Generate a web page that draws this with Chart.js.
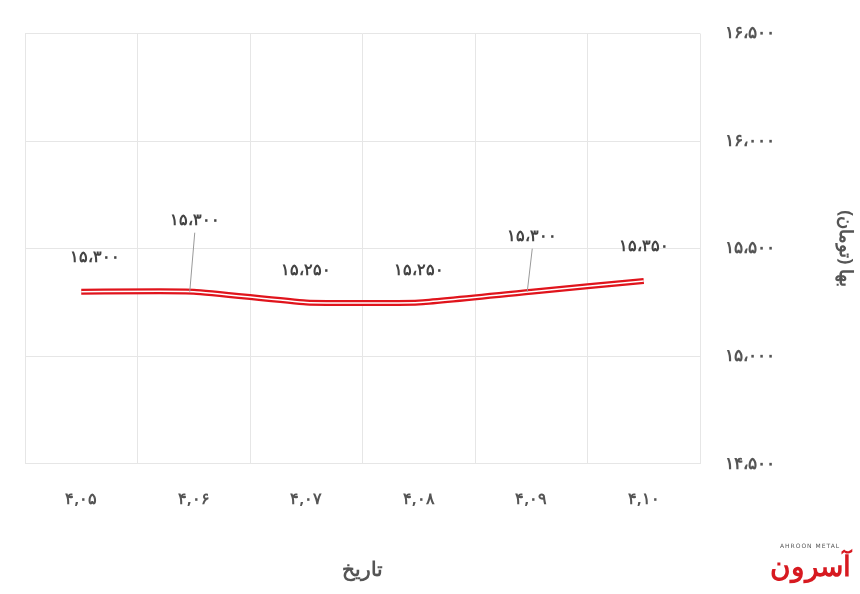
<!DOCTYPE html>
<html><head><meta charset="utf-8">
<script src="https://cdn.jsdelivr.net/npm/chart.js@4"></script>
<style>body{margin:0;background:#fff}#w{width:860px;height:594px;position:relative}
#logo{position:absolute;left:770px;top:542px;width:80px;text-align:center;color:#d71920;font:900 28px "Noto Sans";line-height:30px}
#logo small{display:block;color:#555;font:6px "DejaVu Sans";letter-spacing:1px;line-height:8px}
</style></head><body><div id="w"><canvas id="c" width="860" height="594"></canvas>
<div id="logo"><small>AHROON METAL</small>آسرون</div></div>
<script>
const categories=['۴,۰۵','۴,۰۶','۴,۰۷','۴,۰۸','۴,۰۹','۴,۱۰'];
const prices=[15300,15300,15250,15250,15300,15350];
const yTicks=[14500,15000,15500,16000,16500];
const fa=n=>{const s=String(n).replace(/\B(?=(\d{3})+(?!\d))/g,'،');return s.replace(/\d/g,d=>'۰۱۲۳۴۵۶۷۸۹'[d]);};
const lab={id:'lab',afterDatasetsDraw(ch){const c=ch.ctx,m=ch.getDatasetMeta(0);
 const off=[[14,-34,0],[1,-71,1],[0,-32,0],[0,-32,0],[1,-55,1],[0,-34,0]];
 c.save();c.font='bold 16px "Noto Sans"';c.fillStyle='#444';c.textAlign='center';c.textBaseline='middle';
 m.data.forEach((p,i)=>{const [dx,dy,l]=off[i];
  if(l){c.strokeStyle='#999';c.lineWidth=1;c.beginPath();c.moveTo(p.x-4,p.y);c.lineTo(p.x+dx,p.y+dy+12);c.stroke();}
  c.fillText(fa(prices[i]),p.x+dx,p.y+dy);});c.restore();}};
new Chart(document.getElementById('c'),{type:'line',
data:{labels:categories,datasets:[
 {data:prices,borderColor:'#e0141c',borderWidth:6,pointRadius:0,tension:0.15,order:2},
 {data:prices,borderColor:'#fff',borderWidth:1.5,pointRadius:0,tension:0.15,order:1}]},
options:{responsive:false,animation:false,
 layout:{padding:{left:25,top:-16,right:0,bottom:8}},
 plugins:{legend:{display:false},tooltip:{enabled:false}},
 scales:{
  x:{offset:true,grid:{color:'#e6e6e6',offset:true,drawTicks:false},border:{color:'#e6e6e6'},
   ticks:{color:'#555',font:{size:16,weight:'bold',family:'Noto Sans'},padding:26,callback:(v,i)=>categories[i]},
   title:{display:true,text:'تاریخ',color:'#555',font:{size:20,weight:'bold',family:'Noto Sans'},padding:{top:23}}},
  y:{position:'right',min:14500,max:16500,afterBuildTicks:a=>{a.ticks=yTicks.map(v=>({value:v}))},
   afterFit:s=>{s.width=160;},
   grid:{color:'#e6e6e6',drawTicks:false},border:{display:false},
   ticks:{color:'#555',font:{size:17,weight:'bold',family:'Noto Sans',lineHeight:1},padding:25,callback:v=>fa(v)},
   title:{display:true,text:'بها (تومان)',color:'#555',font:{size:18,weight:'bold',family:'Noto Sans'},padding:{top:4,bottom:10}}}}},
plugins:[lab]});
</script></body></html>
